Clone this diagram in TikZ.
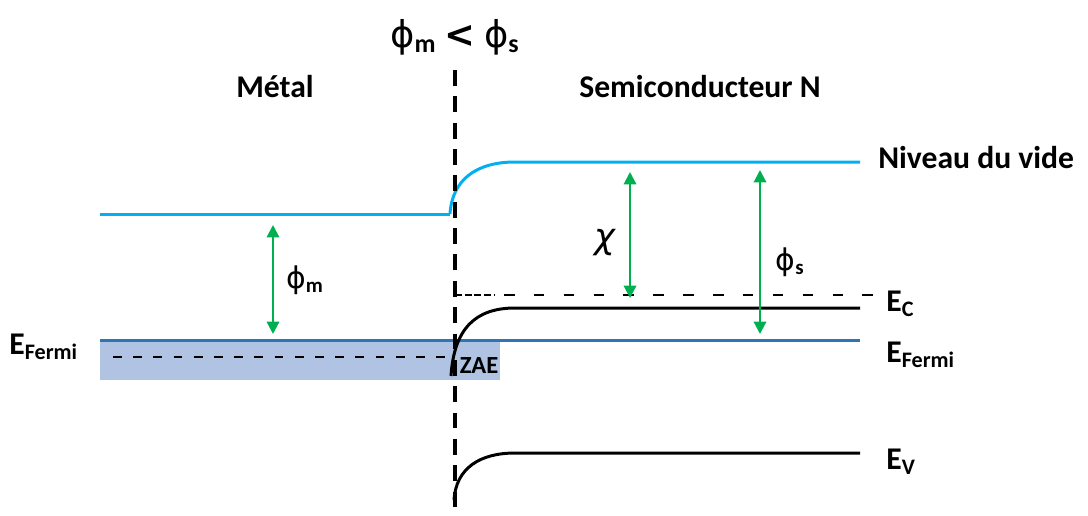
\documentclass[tikz,border=0pt]{standalone}
\usepackage{fontspec}
\setmainfont{Carlito}
\newfontfamily\greekfont{DejaVu Sans}
\usetikzlibrary{arrows.meta}

\definecolor{vide}{HTML}{00B0F0}
\definecolor{fermi}{HTML}{2E75B6}
\definecolor{zone}{HTML}{B0C3E3}
\definecolor{fleche}{HTML}{00B050}

\tikzset{
  niveau/.style={line width=1.7pt},
  ecart/.style={fleche,line width=1.2pt,{Triangle[length=7pt,width=7pt]}-{Triangle[length=7pt,width=7pt]}},
  titre/.style={font=\fontsize{18}{21}\selectfont\bfseries},
  etiquette/.style={font=\fontsize{18}{21}\selectfont\bfseries,anchor=west,inner sep=0pt},
  grec/.style={font=\fontsize{17}{20}\selectfont,inner sep=0pt}
}

\newcommand{\ph}{{\greekfont ϕ}}

\begin{document}
\begin{tikzpicture}[x=0.02cm,y=-0.02cm]

\useasboundingbox (0,0) rectangle (1088,515);

%%%%%%%%%%%%%%%%%%%%%%%%%%%%%%%%%%%%%%%%%%%%%%%%%%
% Metal
%%%%%%%%%%%%%%%%%%%%%%%%%%%%%%%%%%%%%%%%%%%%%%%%%%

% Filled states
\fill[zone] (100,340) rectangle (500,380);
\draw[line width=1.2pt,dash pattern=on 5pt off 6.5pt] (113,357)--(445,357);

% Vacuum level
\draw[niveau,vide] (100,214)--(450,214);

% Fermi level (both sides)
\draw[niveau,fermi] (100,340)--(860,340);

%%%%%%%%%%%%%%%%%%%%%%%%%%%%%%%%%%%%%%%%%%%%%%%%%%
% Semiconductor
%%%%%%%%%%%%%%%%%%%%%%%%%%%%%%%%%%%%%%%%%%%%%%%%%%

% Vacuum level
\draw[niveau,vide] (450,214) .. controls (452,180) and (476,162) .. (515,162)--(860,162);

% Band edges
\draw[niveau] (451,376) .. controls (454,328) and (476,308) .. (515,308)--(860,308);
\draw[niveau] (454,500) .. controls (456,468) and (480,453) .. (515,453)--(860,453);

% Flat band reference
\draw[line width=1pt,dash pattern=on 4pt off 1.5pt] (455,295)--(494,295);
\draw[line width=1pt,dash pattern=on 6pt off 11pt] (504,295)--(880,295);

% Interface
\draw[line width=2.2pt,dash pattern=on 9pt off 6pt] (455,70)--(455,515);

%%%%%%%%%%%%%%%%%%%%%%%%%%%%%%%%%%%%%%%%%%%%%%%%%%
% Energies
%%%%%%%%%%%%%%%%%%%%%%%%%%%%%%%%%%%%%%%%%%%%%%%%%%

\coordinate (phim haut) at (273,225);
\coordinate (phim bas) at (273,334);
\coordinate (chi haut) at (630,172);
\coordinate (chi bas) at (630,298);
\coordinate (phis haut) at (760,170);
\coordinate (phis bas) at (760,334);

\draw[ecart] (phim haut)--(phim bas);
\draw[ecart] (chi haut)--(chi bas);
\draw[ecart] (phis haut)--(phis bas);

% Labels
\node[grec] (lphim) at (305,280) {\ph\textsubscript{\bfseries m}};
\node[grec,font=\fontsize{20}{22}\selectfont\greekfont\itshape] (lchi) at (605,243) {χ};
\node[grec] (lphis) at (790,262) {\ph\textsubscript{\bfseries s}};

\node[titre,font=\fontsize{21}{24}\selectfont] (cond) at (455,37)
  {\ph\textsubscript{\bfseries m} {\greekfont\bfseries <} \ph\textsubscript{\bfseries s}};
\node[titre] (metal) at (275,87) {Métal};
\node[titre] (semi) at (700,87) {Semiconducteur N};

\node[etiquette] (vide) at (878,158) {Niveau du vide};
\node[etiquette] (ec) at (886,304) {E\textsubscript{C}};
\node[etiquette] (efs) at (886,355) {E\textsubscript{Fermi}};
\node[etiquette] (ev) at (886,462) {E\textsubscript{V}};
\node[etiquette] (efm) at (9,347) {E\textsubscript{Fermi}};

\node[font=\fontsize{14}{16}\selectfont\bfseries,inner sep=0pt] (zae) at (479,366) {ZAE};

\end{tikzpicture}
\end{document}
